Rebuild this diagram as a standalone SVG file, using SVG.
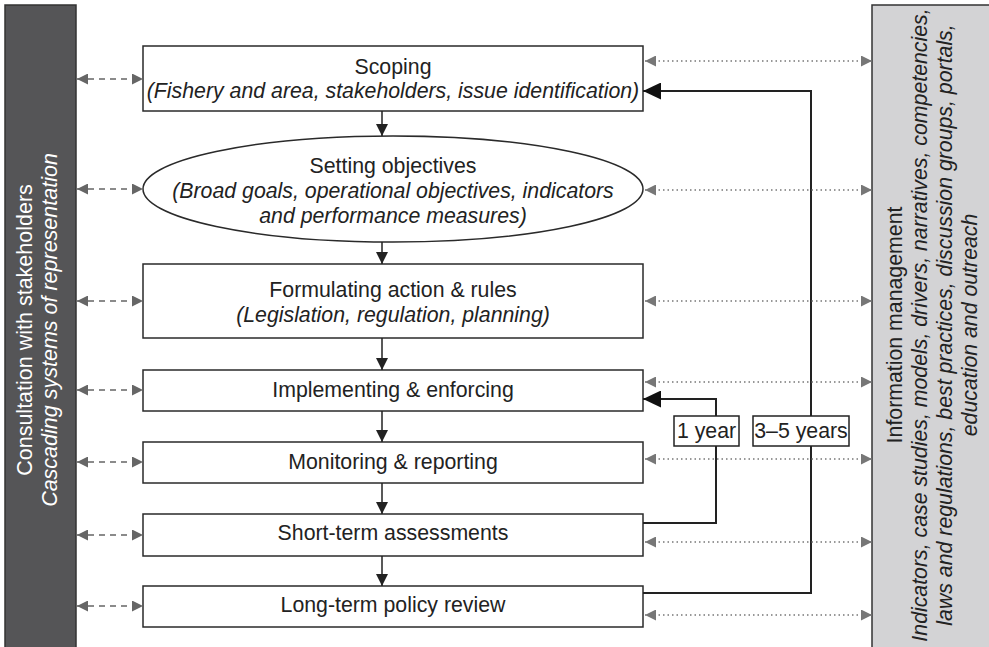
<svg xmlns="http://www.w3.org/2000/svg" width="989" height="647" viewBox="0 0 989 647">
  <style>
    text { font-family: "Liberation Sans", Arial, sans-serif; font-size: 21.3px; fill: #222; }
    .it { font-style: italic; }
    .mid { text-anchor: middle; }
    .node { fill: #fff; stroke: #2a2a2a; stroke-width: 1.5; }
    .flow { stroke: #222; stroke-width: 1.5; fill: none; }
    .loop { stroke: #222; stroke-width: 2; fill: none; }
    .consult { stroke: #666; stroke-width: 1.6; stroke-dasharray: 6 5; fill: none; }
    .info { stroke: #777; stroke-width: 1.3; stroke-dasharray: 1.5 3; fill: none; }
    .side-l text { fill: #fff; font-size: 21.5px; }
    .side-r text { font-size: 21.3px; }
  </style>
  <defs>
    <marker id="down" markerUnits="userSpaceOnUse" markerWidth="12" markerHeight="12" viewBox="0 0 12 12" refX="12" refY="6" orient="auto">
      <path d="M0,0 L12,6 L0,12 Z" fill="#222"/>
    </marker>
    <marker id="big" markerUnits="userSpaceOnUse" markerWidth="18" markerHeight="17" viewBox="0 0 18 17" refX="18" refY="8.5" orient="auto">
      <path d="M0,0 L18,8.5 L0,17 Z" fill="#111"/>
    </marker>
    <marker id="grey" markerUnits="userSpaceOnUse" markerWidth="11" markerHeight="11" viewBox="0 0 11 11" refX="11" refY="5.5" orient="auto-start-reverse">
      <path d="M0,0 L11,5.5 L0,11 Z" fill="#666"/>
    </marker>
    <marker id="grey2" markerUnits="userSpaceOnUse" markerWidth="11" markerHeight="11" viewBox="0 0 11 11" refX="11" refY="5.5" orient="auto-start-reverse">
      <path d="M0,0 L11,5.5 L0,11 Z" fill="#777"/>
    </marker>
  </defs>

  <!-- stakeholder consultation column -->
  <g id="consultation" class="side-l">
    <rect x="5" y="5" width="71" height="650" fill="#555557" stroke="#333" stroke-width="1.5"/>
    <g transform="translate(32,330) rotate(-90)">
      <text class="mid" x="0" y="0">Consultation with stakeholders</text>
      <text class="mid it" x="0" y="25">Cascading systems of representation</text>
    </g>
  </g>

  <!-- information management column -->
  <g id="information" class="side-r">
    <rect x="872" y="5" width="120" height="650" fill="#d3d3d5" stroke="#333" stroke-width="1.5"/>
    <g transform="translate(902,325) rotate(-90)">
      <text class="mid" x="0" y="0">Information management</text>
      <text class="mid it" x="0" y="25">Indicators, case studies, models, drivers, narratives, competencies,</text>
      <text class="mid it" x="0" y="50">laws and regulations, best practices, discussion groups, portals,</text>
      <text class="mid it" x="0" y="75">education and outreach</text>
    </g>
  </g>

  <!-- process steps -->
  <g id="scoping">
    <rect class="node" x="143" y="46" width="500" height="65"/>
    <text class="mid" x="393" y="74">Scoping</text>
    <text class="mid it" x="393" y="98">(Fishery and area, stakeholders, issue identification)</text>
  </g>
  <g id="objectives">
    <ellipse class="node" cx="393" cy="189" rx="250" ry="53"/>
    <text class="mid" x="393" y="173">Setting objectives</text>
    <text class="mid it" x="393" y="198">(Broad goals, operational objectives, indicators</text>
    <text class="mid it" x="393" y="223">and performance measures)</text>
  </g>
  <g id="formulating">
    <rect class="node" x="143" y="264" width="500" height="74"/>
    <text class="mid" x="393" y="297">Formulating action &amp; rules</text>
    <text class="mid it" x="393" y="322">(Legislation, regulation, planning)</text>
  </g>
  <g id="implementing">
    <rect class="node" x="143" y="370" width="500" height="41"/>
    <text class="mid" x="393" y="397">Implementing &amp; enforcing</text>
  </g>
  <g id="monitoring">
    <rect class="node" x="143" y="442" width="500" height="41"/>
    <text class="mid" x="393" y="469">Monitoring &amp; reporting</text>
  </g>
  <g id="short-term">
    <rect class="node" x="143" y="514" width="500" height="42"/>
    <text class="mid" x="393" y="540">Short-term assessments</text>
  </g>
  <g id="long-term">
    <rect class="node" x="143" y="586" width="500" height="41"/>
    <text class="mid" x="393" y="612">Long-term policy review</text>
  </g>

  <!-- connectors -->
  <g id="connectors">
    <!-- main sequence -->
    <line class="flow" x1="382" y1="111" x2="382" y2="136" marker-end="url(#down)"/>
    <line class="flow" x1="382" y1="242" x2="382" y2="264" marker-end="url(#down)"/>
    <line class="flow" x1="382" y1="338" x2="382" y2="370" marker-end="url(#down)"/>
    <line class="flow" x1="382" y1="411" x2="382" y2="442" marker-end="url(#down)"/>
    <line class="flow" x1="382" y1="483" x2="382" y2="514" marker-end="url(#down)"/>
    <line class="flow" x1="382" y1="556" x2="382" y2="586" marker-end="url(#down)"/>

    <!-- feedback loops -->
    <polyline class="loop" points="643,523 716,523 716,399 643,399" marker-end="url(#big)"/>
    <polyline class="loop" points="643,593 811,593 811,91 643,91" marker-end="url(#big)"/>

    <!-- consultation links -->
    <line class="consult" x1="77" y1="79" x2="143" y2="79" marker-start="url(#grey)" marker-end="url(#grey)"/>
    <line class="consult" x1="77" y1="189" x2="143" y2="189" marker-start="url(#grey)" marker-end="url(#grey)"/>
    <line class="consult" x1="77" y1="301" x2="143" y2="301" marker-start="url(#grey)" marker-end="url(#grey)"/>
    <line class="consult" x1="77" y1="390" x2="143" y2="390" marker-start="url(#grey)" marker-end="url(#grey)"/>
    <line class="consult" x1="77" y1="462" x2="143" y2="462" marker-start="url(#grey)" marker-end="url(#grey)"/>
    <line class="consult" x1="77" y1="535" x2="143" y2="535" marker-start="url(#grey)" marker-end="url(#grey)"/>
    <line class="consult" x1="77" y1="606" x2="143" y2="606" marker-start="url(#grey)" marker-end="url(#grey)"/>

    <!-- information links -->
    <line class="info" x1="645" y1="61" x2="872" y2="61" marker-start="url(#grey2)" marker-end="url(#grey2)"/>
    <line class="info" x1="645" y1="190" x2="872" y2="190" marker-start="url(#grey2)" marker-end="url(#grey2)"/>
    <line class="info" x1="645" y1="301" x2="872" y2="301" marker-start="url(#grey2)" marker-end="url(#grey2)"/>
    <line class="info" x1="645" y1="382" x2="872" y2="382" marker-start="url(#grey2)" marker-end="url(#grey2)"/>
    <line class="info" x1="645" y1="459" x2="872" y2="459" marker-start="url(#grey2)" marker-end="url(#grey2)"/>
    <line class="info" x1="645" y1="542" x2="872" y2="542" marker-start="url(#grey2)" marker-end="url(#grey2)"/>
    <line class="info" x1="645" y1="615" x2="872" y2="615" marker-start="url(#grey2)" marker-end="url(#grey2)"/>
  </g>

  <!-- loop period labels -->
  <g id="label-1-year">
    <rect x="674" y="416" width="65" height="30" fill="#fff" stroke="#222" stroke-width="1.5"/>
    <text class="mid" x="706.5" y="438">1 year</text>
  </g>
  <g id="label-3-5-years">
    <rect x="753" y="416" width="96" height="30" fill="#fff" stroke="#222" stroke-width="1.5"/>
    <text class="mid" x="801" y="438">3–5 years</text>
  </g>
</svg>
